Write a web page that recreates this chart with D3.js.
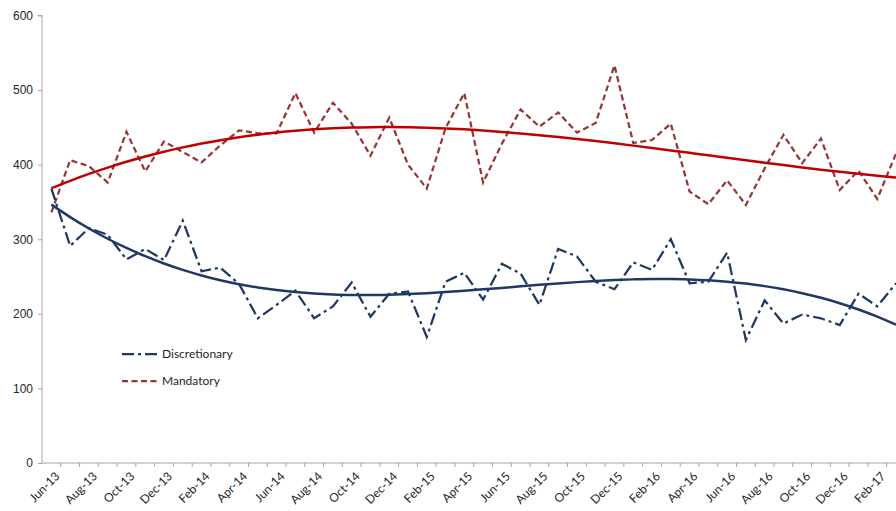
<!DOCTYPE html>
<html>
<head>
<meta charset="utf-8">
<script src="https://cdn.jsdelivr.net/npm/d3@7"></script>
<style>
  body { margin: 0; background: #fff; }
  svg { display: block; font-family: Lato, "Open Sans", sans-serif; }
  .axis text { fill: #262626; font-size: 12px; }
  .axis path, .axis line { stroke: #a6a6a6; }
</style>
</head>
<body>
<div class="chart-container"></div>
<script>
// months Jun-13 .. Mar-17 (last one sits on the right edge)
let months = [
  'Jun-13', 'Jul-13', 'Aug-13', 'Sep-13', 'Oct-13', 'Nov-13', 'Dec-13',
  'Jan-14', 'Feb-14', 'Mar-14', 'Apr-14', 'May-14', 'Jun-14', 'Jul-14', 'Aug-14', 'Sep-14', 'Oct-14', 'Nov-14', 'Dec-14',
  'Jan-15', 'Feb-15', 'Mar-15', 'Apr-15', 'May-15', 'Jun-15', 'Jul-15', 'Aug-15', 'Sep-15', 'Oct-15', 'Nov-15', 'Dec-15',
  'Jan-16', 'Feb-16', 'Mar-16', 'Apr-16', 'May-16', 'Jun-16', 'Jul-16', 'Aug-16', 'Sep-16', 'Oct-16', 'Nov-16', 'Dec-16',
  'Jan-17', 'Feb-17', 'Mar-17'
]

let discretionary = [
  368, 291, 315, 306, 273, 287, 272, 325, 257, 262, 240, 194, 212, 231, 194, 210,
  242, 196, 227, 230, 169, 243, 255, 219, 267, 254, 212, 287, 277, 243, 233, 269,
  259, 300, 241, 243, 282, 165, 218, 187, 199, 194, 185, 227, 210, 241
]

let mandatory = [
  336, 406, 398, 376, 444, 391, 431, 417, 403, 426, 446, 442, 442, 496, 443, 483,
  455, 412, 463, 400, 368, 449, 496, 376, 428, 474, 451, 470, 443, 456, 533, 429,
  433, 455, 364, 347, 379, 346, 395, 440, 402, 435, 366, 392, 354, 415
]

let yTicks = [0, 100, 200, 300, 400, 500, 600]

let width = 896,
    height = 511,
    margin = { top: 15.5, left: 42, bottom: 48 },
    step = 18.77,
    plotRight = margin.left + months.length * step,
    yBottom = height - margin.bottom

let x = d3.scaleBand()
  .domain(months)
  .range([margin.left, plotRight])
  .padding(0)

let y = d3.scaleLinear()
  .domain([0, 600])
  .range([yBottom, margin.top])

let cx = d => x(d) + x.bandwidth() / 2

// least squares polynomial like Excel's trendline (x = 1..n)
function polyFit (vals, order) {
  let n = order + 1
  let A = [], b = []
  for (let r = 0; r < n; r++) {
    A.push(new Array(n).fill(0))
    b.push(0)
  }
  vals.forEach((v, i) => {
    let t = (i + 1) / vals.length
    for (let r = 0; r < n; r++) {
      for (let c = 0; c < n; c++) A[r][c] += Math.pow(t, r + c)
      b[r] += v * Math.pow(t, r)
    }
  })
  for (let k = 0; k < n; k++) {
    for (let r = k + 1; r < n; r++) {
      let f = A[r][k] / A[k][k]
      for (let c = k; c < n; c++) A[r][c] -= f * A[k][c]
      b[r] -= f * b[k]
    }
  }
  let coef = new Array(n).fill(0)
  for (let r = n - 1; r >= 0; r--) {
    let s = b[r]
    for (let c = r + 1; c < n; c++) s -= A[r][c] * coef[c]
    coef[r] = s / A[r][r]
  }
  return vals.map((v, i) => {
    let t = (i + 1) / vals.length
    return coef.reduce((acc, c, p) => acc + c * Math.pow(t, p), 0)
  })
}

let svg = d3.select('.chart-container')
  .append('svg')
  .attr('width', width)
  .attr('height', height)

// y axis
svg.append('g')
  .attr('class', 'axis')
  .attr('transform', `translate(${margin.left},0)`)
  .call(d3.axisLeft(y).tickValues(yTicks).tickSize(4).tickPadding(5))
  .call(g => g.select('.domain').attr('d', `M-4,${y(600)}H0V${yBottom}`))

// x axis: line + tick marks at category boundaries
let xAxis = svg.append('g').attr('class', 'axis')
xAxis.append('line')
  .attr('x1', margin.left).attr('x2', plotRight)
  .attr('y1', yBottom).attr('y2', yBottom)
xAxis.selectAll('.tick')
  .data(months)
  .enter()
  .append('line')
  .attr('x1', d => x(d) + x.bandwidth()).attr('x2', d => x(d) + x.bandwidth())
  .attr('y1', yBottom).attr('y2', yBottom + 4)
xAxis.selectAll('.lbl')
  .data(months.filter((m, i) => i % 2 === 0))
  .enter()
  .append('text')
  .attr('transform', d => `translate(${cx(d) + 6},${yBottom + 11}) rotate(-45)`)
  .attr('text-anchor', 'end')
  .attr('dy', '0.35em')
  .text(d => d)

let line = d3.line()
  .x((d, i) => cx(months[i]))
  .y(d => y(d))

let series = [
  { name: 'Mandatory', values: mandatory, color: '#953735', dash: '6,3.5', trendColor: '#c00000' },
  { name: 'Discretionary', values: discretionary, color: '#1f3864', dash: '12,4,3,4', trendColor: '#1f3864' }
]

series.forEach(s => {
  svg.append('path')
    .datum(s.values)
    .attr('d', line)
    .attr('fill', 'none')
    .attr('stroke', s.color)
    .attr('stroke-width', 2.25)
    .attr('stroke-dasharray', s.dash)

  svg.append('path')
    .datum(polyFit(s.values, 3))
    .attr('d', line.curve(d3.curveMonotoneX))
    .attr('fill', 'none')
    .attr('stroke', s.trendColor)
    .attr('stroke-width', 2.5)
  line.curve(d3.curveLinear)
})

// legend
let legend = svg.append('g')
  .attr('transform', 'translate(122,354)')

legend.selectAll('g')
  .data(series.slice().reverse())
  .enter()
  .append('g')
  .attr('transform', (d, i) => `translate(0,${i * 27})`)
  .each(function (d) {
    let g = d3.select(this)
    g.append('line')
      .attr('x1', 0).attr('x2', 38)
      .attr('stroke', d.color)
      .attr('stroke-width', 2.25)
      .attr('stroke-dasharray', d.dash)
    g.append('text')
      .attr('x', 40)
      .attr('dy', '0.35em')
      .attr('font-size', 12)
      .attr('fill', '#262626')
      .text(d.name)
  })
</script>
</body>
</html>
